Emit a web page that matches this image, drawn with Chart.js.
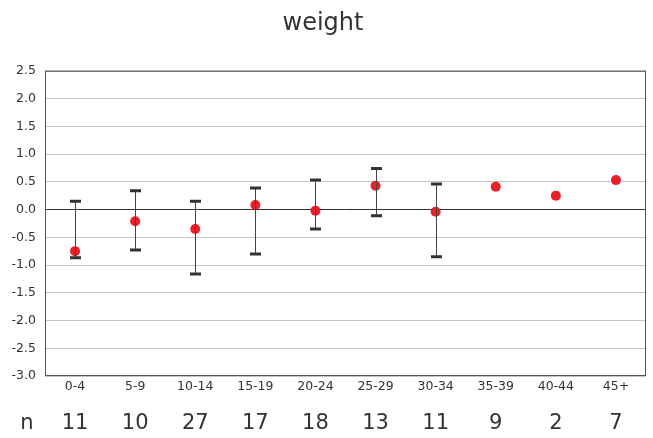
<!DOCTYPE html>
<html>
<head>
<meta charset="utf-8">
<script src="https://cdn.jsdelivr.net/npm/chart.js@4"></script>
<style>
  html, body { margin: 0; padding: 0; background: #fff; }
  #wrap { width: 653px; height: 438px; }
</style>
</head>
<body>
<div id="wrap"><canvas id="myChart"></canvas></div>
<script>
// data
var ageGroups = ['0-4', '5-9', '10-14', '15-19', '20-24', '25-29', '30-34', '35-39', '40-44', '45+'];
var meanValues = [-0.75, -0.21, -0.35, 0.08, -0.02, 0.43, -0.04, 0.41, 0.25, 0.53];
var upperValues = [0.15, 0.34, 0.15, 0.39, 0.53, 0.74, 0.46, null, null, null];
var lowerValues = [-0.87, -0.73, -1.16, -0.80, -0.35, -0.11, -0.85, null, null, null];
var countValues = [11, 10, 27, 17, 18, 13, 11, 9, 2, 7];
var yTicks = [2.5, 2.0, 1.5, 1.0, 0.5, 0.0, -0.5, -1.0, -1.5, -2.0, -2.5, -3.0];

var fontFamily = '"DejaVu Sans", Verdana, sans-serif';

// error bars, frame and the n row
var extrasPlugin = {
    id: 'extras',
    afterDatasetsDraw: function (chart) {
        var c = chart.ctx;
        var xs = chart.scales.x, ys = chart.scales.y;
        var area = chart.chartArea;
        c.save();
        // frame
        c.strokeStyle = '#555';
        c.lineWidth = 1;
        c.strokeRect(area.left + 0.5, area.top + 0.5, area.right - area.left - 1, area.bottom - area.top - 1);
        // error bars
        for (var i = 0; i < ageGroups.length; i++) {
            if (upperValues[i] === null) continue;
            var x = Math.round(xs.getPixelForValue(i)) + 0.5;
            var yTop = ys.getPixelForValue(upperValues[i]);
            var yBot = ys.getPixelForValue(lowerValues[i]);
            c.strokeStyle = '#444';
            c.lineWidth = 1;
            c.beginPath();
            c.moveTo(x, yTop);
            c.lineTo(x, yBot);
            c.stroke();
            c.strokeStyle = '#333';
            c.lineWidth = 3;
            c.beginPath();
            c.moveTo(x - 5.5, yTop);
            c.lineTo(x + 5.5, yTop);
            c.moveTo(x - 5.5, yBot);
            c.lineTo(x + 5.5, yBot);
            c.stroke();
        }
        // n row
        c.fillStyle = '#333';
        c.font = '21px ' + fontFamily;
        c.textAlign = 'center';
        c.textBaseline = 'middle';
        c.fillText('n', 27, 424);
        for (var j = 0; j < countValues.length; j++) {
            c.fillText(String(countValues[j]), xs.getPixelForValue(j), 424);
        }
        c.restore();
    }
};

var ctx1 = document.getElementById('myChart').getContext('2d');
var myChart = new Chart(ctx1, {
    type: 'line',
    data: {
        labels: ageGroups,
        datasets: [{
            label: 'weight',
            data: meanValues,
            showLine: false,
            pointRadius: 5,
            pointHoverRadius: 5,
            pointBackgroundColor: '#e8202a',
            pointBorderWidth: 0,
            borderColor: '#e8202a',
            order: 0
        }]
    },
    options: {
        responsive: true,
        maintainAspectRatio: false,
        animation: false,
        events: [],
        layout: {
            padding: { left: 0, right: 7, top: 0, bottom: 0 }
        },
        plugins: {
            legend: { display: false },
            tooltip: { enabled: false },
            title: {
                display: true,
                text: 'weight',
                color: '#333',
                font: { family: fontFamily, size: 24, weight: 'normal' },
                padding: { top: 9, bottom: 33 }
            }
        },
        scales: {
            x: {
                type: 'category',
                offset: true,
                grid: { display: false, drawTicks: false },
                border: { display: false },
                ticks: {
                    color: '#333',
                    font: { family: fontFamily, size: 12.5 },
                    padding: 3,
                    maxRotation: 0
                },
                afterFit: function (scale) { scale.height = 62; }
            },
            y: {
                min: -3,
                max: 2.5,
                afterBuildTicks: function (scale) {
                    scale.ticks = yTicks.map(function (v) { return { value: v }; });
                },
                grid: {
                    drawTicks: false,
                    color: function (ctx) {
                        return ctx.tick && ctx.tick.value === 0 ? '#333' : '#cbc3c3';
                    }
                },
                border: { display: false },
                ticks: {
                    color: '#333',
                    font: { family: fontFamily, size: 12.5 },
                    padding: 9,
                    callback: function (v) { return Number(v).toFixed(1); }
                },
                afterFit: function (scale) { scale.width = 45; }
            }
        }
    },
    plugins: [extrasPlugin]
});
</script>
</body>
</html>
